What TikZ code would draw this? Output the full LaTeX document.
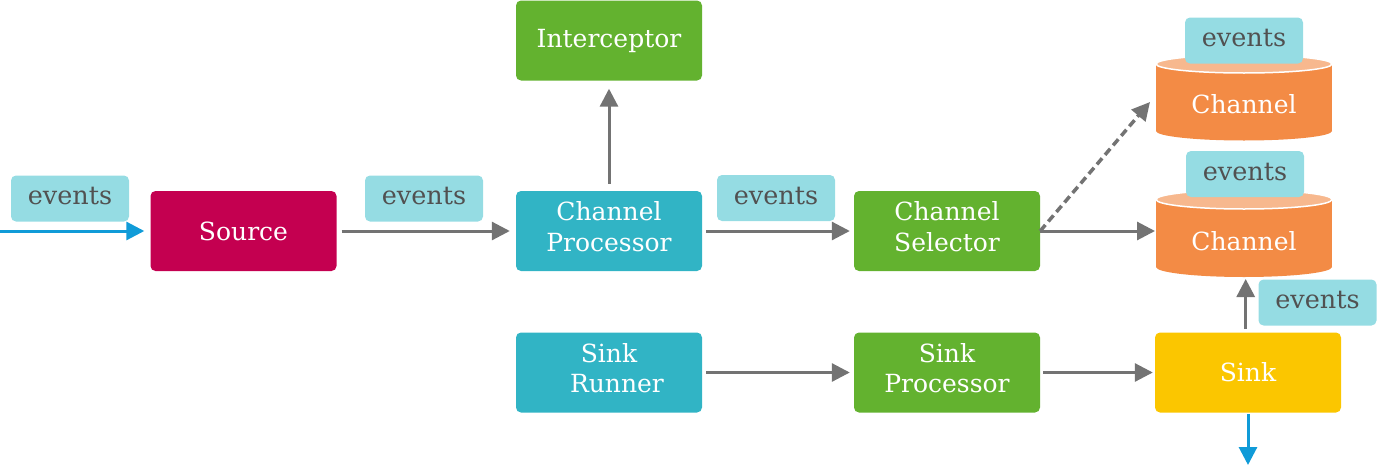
\documentclass[tikz,border=0pt]{standalone}
\usepackage{fontspec}
\setmainfont{DejaVu Serif}
\usetikzlibrary{arrows.meta}
\definecolor{cSource}{HTML}{C40050}
\definecolor{cTeal}{HTML}{31B4C5}
\definecolor{cGreen}{HTML}{63B22F}
\definecolor{cSink}{HTML}{FBC600}
\definecolor{cOrange}{HTML}{F38B45}
\definecolor{cOrangeL}{HTML}{F7B88E}
\definecolor{cEvt}{HTML}{95DCE3}
\definecolor{cEvtTxt}{HTML}{515151}
\definecolor{cGray}{HTML}{737373}
\definecolor{cBlue}{HTML}{109BD8}
\begin{document}
\begin{tikzpicture}[x=1pt,y=-1pt,
  box/.style={rectangle, rounded corners=5pt, minimum width=186pt, minimum height=80pt,
    inner sep=0pt, text=white, align=center, font=\fontsize{25}{30.5}\selectfont},
  twoline/.style={text depth=9pt},
  evt/.style={rectangle, rounded corners=5pt, fill=cEvt, minimum width=118pt, minimum height=46pt,
    inner sep=0pt, text=cEvtTxt, font=\fontsize{25.5}{30}\selectfont, text depth=4.5pt},
  garrow/.style={draw=cGray, line width=3pt, -{Triangle[length=18pt,width=18pt]}},
  barrow/.style={draw=cBlue, line width=3pt, -{Triangle[length=18pt,width=18pt]}},
  cyltxt/.style={text=white, font=\fontsize{25}{30.5}\selectfont, inner sep=0pt}
]
\useasboundingbox (0,0) rectangle (1377,466);

% boxes
\node[box, fill=cSource] (src) at (243.5,231) {Source};
\node[box, fill=cGreen] (icp) at (609,40.5) {Interceptor};
\node[box, twoline, fill=cTeal] (cp) at (609,231) {Channel\\Processor};
\node[box, twoline, fill=cGreen] (sel) at (947,231) {Channel\\Selector};
\node[box, twoline, fill=cTeal] (sr) at (609,372.5) {Sink\\\hspace*{16pt}Runner};
\node[box, twoline, fill=cGreen] (sp) at (947,372.5) {Sink\\Processor};
\node[box, fill=cSink] (sink) at (1248,372.5) {Sink};

% cylinders
\fill[cOrange] (1156,64) rectangle (1332,131);
\fill[cOrange] (1244,131) ellipse [x radius=88pt, y radius=9.5pt];
\filldraw[fill=cOrangeL, draw=white, line width=1.5pt] (1244,64) ellipse [x radius=88pt, y radius=9pt];
\node[cyltxt] (ch1) at (1244,104) {Channel};

\fill[cOrange] (1156,199.5) rectangle (1332,267);
\fill[cOrange] (1244,267) ellipse [x radius=88pt, y radius=10pt];
\filldraw[fill=cOrangeL, draw=white, line width=1.5pt] (1244,199.5) ellipse [x radius=88pt, y radius=9.5pt];
\node[cyltxt] (ch2) at (1244,241) {Channel};

% events labels
\node[evt] (e1) at (70,198.5) {events};
\node[evt] (e2) at (424,198.5) {events};
\node[evt] (e3) at (776,198) {events};
\node[evt] (e4) at (1244,40.5) {events};
\node[evt] (e5) at (1245,174) {events};
\node[evt] (e6) at (1317.5,302.5) {events};

% coordinates
\coordinate (in) at (0,231);
\coordinate (ch2w) at (1155,231);
\coordinate (ch1tip) at (1150,102);
\coordinate (sinkup) at (1245.7,329);
\coordinate (ch2b) at (1245.7,279);
\coordinate (sinkdn) at (1248,414);
\coordinate (out) at (1248,465);

% connectors
\draw[barrow, shorten >=6pt] (in) -- (src);
\draw[garrow, shorten <=5pt, shorten >=6pt] (src) -- (cp);
\draw[garrow, shorten <=7pt, shorten >=8pt] (cp) -- (icp);
\draw[garrow, shorten <=4pt, shorten >=4pt] (cp) -- (sel);
\draw[garrow] (sel.east) -- (ch2w);
\draw[garrow, line width=3.5pt, dash pattern=on 8pt off 4.5pt] (sel.east) -- (ch1tip);
\draw[garrow, shorten <=4pt, shorten >=4pt] (sr) -- (sp);
\draw[garrow, shorten <=3pt, shorten >=2pt] (sp) -- (sink);
\draw[garrow] (sinkup) -- (ch2b);
\draw[barrow] (sinkdn) -- (out);
\end{tikzpicture}
\end{document}
